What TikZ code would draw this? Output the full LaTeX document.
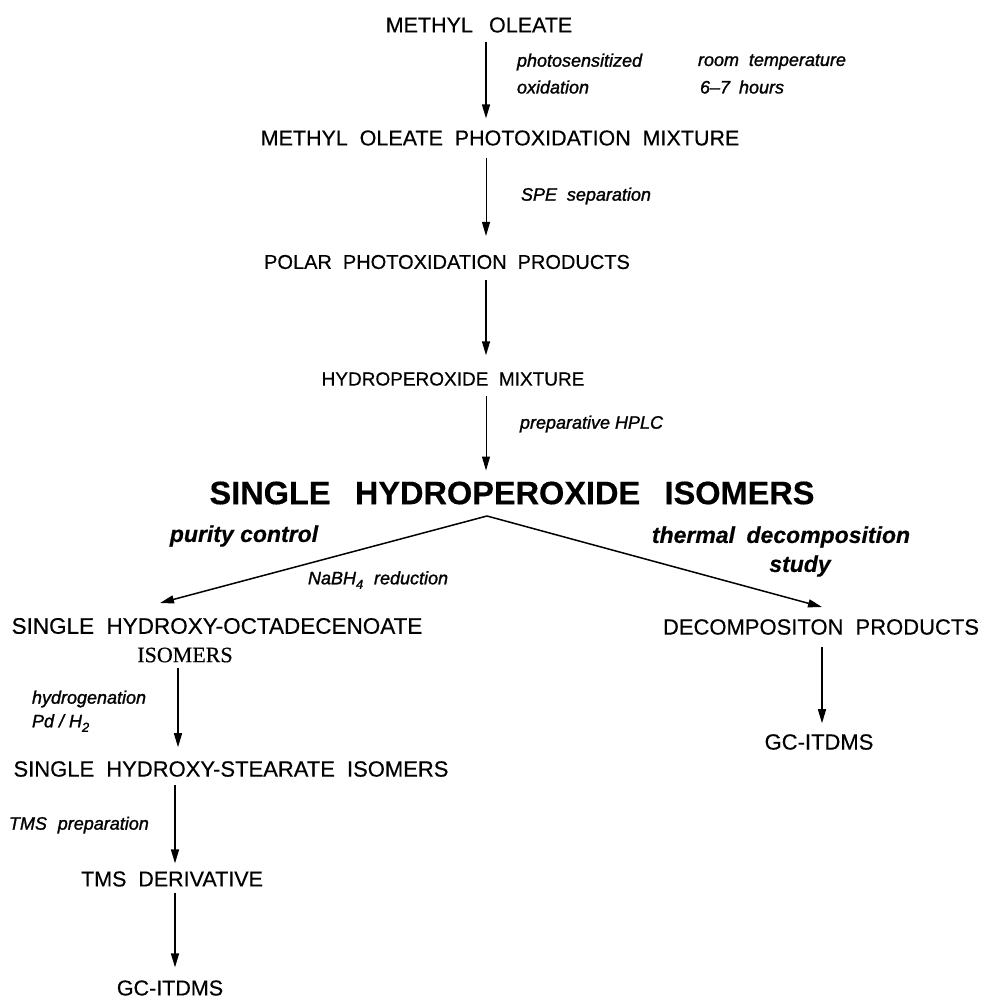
\documentclass[tikz,border=0pt]{standalone}
\usepackage{fontspec}
\setmainfont[FakeBold=0.4]{Liberation Sans}
\newfontfamily\lblfont[FakeBold=1.3]{Liberation Sans}
\newfontfamily\timesfont[FakeBold=0.4]{Liberation Serif}
\usetikzlibrary{arrows.meta}
\newcommand{\fs}[1]{\fontsize{#1}{#1}\selectfont\spaceskip=0.55em\relax}
\newcommand{\fl}[1]{\lblfont\fontsize{#1}{#1}\selectfont\itshape}
\newcommand{\fsbig}{\fontsize{32.5}{32.5}\selectfont\bfseries\spaceskip=0.75em\relax}
\newcommand{\fstimes}{\timesfont\fontsize{22}{22}\selectfont}
\newcommand{\subsc}[1]{\raisebox{-4.5pt}{\fontsize{13}{13}\selectfont #1}}
\tikzset{
  txt/.style={inner sep=0pt, outer sep=0pt, font=\fs{21.5}},
  lbl/.style={inner sep=0pt, outer sep=0pt, anchor=west, font=\fl{18}},
  blbl/.style={inner sep=0pt, outer sep=0pt, font=\fs{23}\bfseries\itshape},
  arr/.style={line width=1.5pt, -{Triangle[length=14pt,width=8pt]}},
  tarr/.style={line width=1pt, -{Triangle[length=14pt,width=8pt]}},
}
\begin{document}
\begin{tikzpicture}[x=1pt,y=-1pt]
\useasboundingbox (0,0) rectangle (985,998);
% spines
\coordinate (sp0) at (486,0);
\coordinate (sp1) at (178,0);
\coordinate (sp2) at (175,0);
\coordinate (sp3) at (822,0);
% main column
\node[txt] (mo) at (479,25) {METHYL\hspace{0.75em}OLEATE};
\node[txt] (mopm) at (500,138) {METHYL OLEATE PHOTOXIDATION MIXTURE};
\node[txt, font=\fs{20}] (ppp) at (447,262) {POLAR PHOTOXIDATION PRODUCTS};
\node[txt, font=\fs{19}] (hm) at (453,379) {HYDROPEROXIDE MIXTURE};
\node[txt, font=\fsbig] (shi) at (512,493) {SINGLE HYDROPEROXIDE ISOMERS};
% left branch
\node[txt, font=\fs{22.5}] (octa) at (217,626) {SINGLE HYDROXY-OCTADECENOATE};
\node[txt, font=\fstimes] (octaiso) at (185,655) {ISOMERS};
\node[txt, font=\fs{22}] (stea) at (231,769) {SINGLE HYDROXY-STEARATE ISOMERS};
\node[txt] (tms) at (172,879) {TMS DERIVATIVE};
\node[txt] (gc1) at (170,988) {GC-ITDMS};
% right branch
\node[txt, font=\fs{22}] (dec) at (821,627) {DECOMPOSITON PRODUCTS};
\node[txt, font=\fs{22}] (gc2) at (819,742) {GC-ITDMS};
% labels
\node[lbl] (l1) at (517,62) {photosensitized};
\node[lbl] (l2) at (517,87) {oxidation};
\node[lbl] (l3) at (698,62) {room\hspace{0.55em}temperature};
\node[lbl] (l4) at (700,87) {6–7\hspace{0.5em}hours};
\node[lbl] (l5) at (521,196) {SPE\hspace{0.55em}separation};
\node[lbl] (l6) at (520,424) {preparative HPLC};
\node[blbl, font=\fontsize{23}{23}\selectfont\bfseries\itshape] (pc) at (244,536) {purity control};
\node[lbl] (l7) at (308,580) {NaBH\subsc{4}\hspace{0.6em}reduction};
\node[blbl] (tds1) at (781,537) {thermal\hspace{0.5em}decomposition};
\node[blbl] (tds2) at (800,566) {study};
\node[lbl] (l8) at (32,699) {hydrogenation};
\node[lbl] (l9) at (32,723) {Pd / H\subsc{2}};
\node[lbl] (l10) at (9,825) {TMS\hspace{0.6em}preparation};
% arrows main column
\draw[arr, shorten <=9pt, shorten >=12pt] (mo.south -| sp0) -- (mopm.north -| sp0);
\draw[tarr, shorten <=12pt, shorten >=19pt] (mopm.south -| sp0) -- (ppp.north -| sp0);
\draw[arr, shorten <=11pt, shorten >=17pt] (ppp.south -| sp0) -- (hm.north -| sp0);
\draw[tarr, shorten <=10pt, shorten >=11pt] (hm.south -| sp0) -- (shi.north -| sp0);
% branches
\coordinate (apex) at (487,516);
\coordinate (tipL) at (160,603);
\coordinate (tipR) at (822,607);
\draw[arr] (apex) -- (tipL);
\draw[arr] (apex) -- (tipR);
% left column
\draw[arr, shorten <=6pt, shorten >=14pt] (octaiso.south -| sp1) -- (stea.north -| sp1);
\draw[arr, shorten <=8pt, shorten >=8pt] (stea.south -| sp2) -- (tms.north -| sp2);
\draw[arr, shorten <=6pt, shorten >=13pt] (tms.south -| sp2) -- (gc1.north -| sp2);
% right column
\draw[arr, shorten <=12pt, shorten >=11pt] (dec.south -| sp3) -- (gc2.north -| sp3);
\end{tikzpicture}
\end{document}
